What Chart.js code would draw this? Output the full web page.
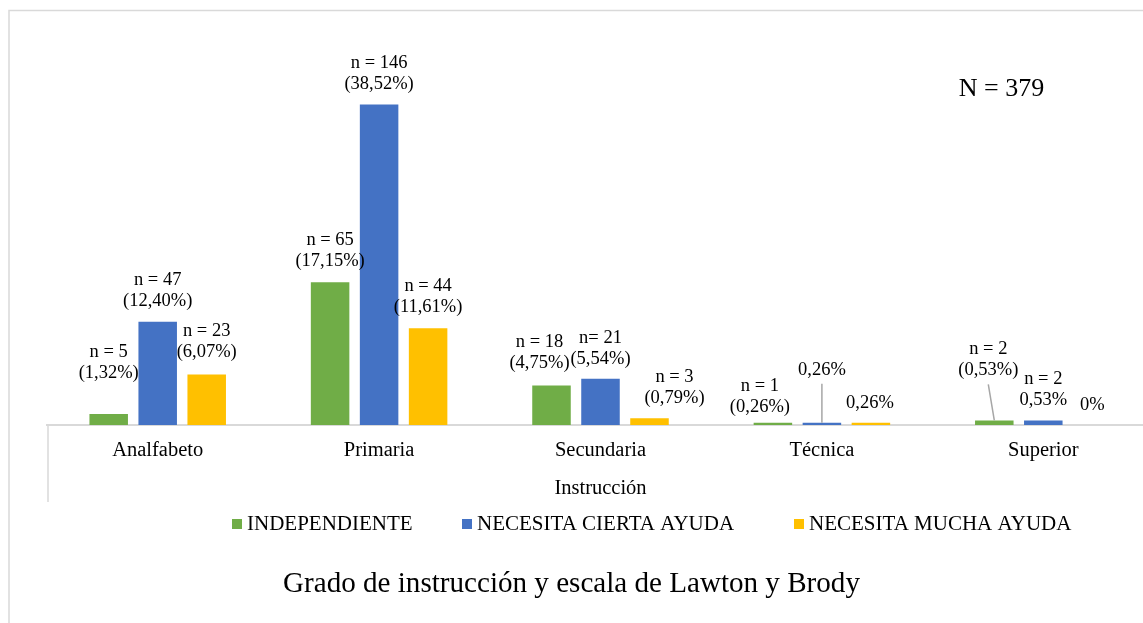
<!DOCTYPE html>
<html>
<head>
<meta charset="utf-8">
<script src="https://cdn.jsdelivr.net/npm/chart.js@4/dist/chart.umd.min.js"></script>
<style>
  html, body { margin: 0; padding: 0; background: #fff; overflow: hidden; }
  #wrap { position: relative; width: 1143px; height: 623px; overflow: hidden; background: #fff; }
  #c { position: absolute; left: -11px; top: 0; }
</style>
</head>
<body>
<div id="wrap"><canvas id="c" width="1165" height="623"></canvas></div>
<script>
// ---- Data ----
const categories = ['Analfabeto', 'Primaria', 'Secundaria', 'Técnica', 'Superior'];
const seriesNames = ['INDEPENDIENTE', 'NECESITA CIERTA AYUDA', 'NECESITA MUCHA AYUDA'];
const independiente = [5, 65, 18, 1, 2];
const ciertaAyuda = [47, 146, 21, 1, 2];
const muchaAyuda = [23, 44, 3, 1, 0];
const labelsIndependiente = [['n = 5', '(1,32%)'], ['n = 65', '(17,15%)'], ['n = 18', '(4,75%)'], ['n = 1', '(0,26%)'], ['n = 2', '(0,53%)']];
const labelsCierta = [['n = 47', '(12,40%)'], ['n = 146', '(38,52%)'], ['n= 21', '(5,54%)'], ['0,26%'], ['n = 2', '0,53%']];
const labelsMucha = [['n = 23', '(6,07%)'], ['n = 44', '(11,61%)'], ['n = 3', '(0,79%)'], ['0,26%'], ['0%']];
const totalText = 'N = 379';
const chartTitle = 'Grado de instrucción y escala de Lawton y Brody';
const axisTitle = 'Instrucción';

// ---- Styles ----
const FAMILY = "'Liberation Serif', 'Times New Roman', serif";
const colors = ['#70AD47', '#4472C4', '#FFC000'];
const OX = 11; // canvas is shifted 11px to the left of the window
// label offsets [dx, dy of first line middle relative to bar top]
const labelOffsets = [
  [[0, -62], [0, -42], [-12, -43], [-13, -37], [-6, -71]],
  [[0, -42], [0, -41], [0, -41], [0, -53], [0, -41]],
  [[0, -43], [0, -42], [25, -41], [-1, -20], [0, -20]]
];
// leader lines: [dataset, index, fromDx, fromDy]
const leaders = [[1, 3, 0, -39], [0, 4, -6, -36]];
// legend item left positions (window px)
const legendX = [232, 462, 794];

Chart.defaults.font.family = FAMILY;
Chart.defaults.color = '#000';

const decor = {
  id: 'decor',
  beforeDraw(chart) {
    const ctx = chart.ctx;
    ctx.save();
    ctx.translate(OX, 0);
    ctx.strokeStyle = '#d9d9d9';
    ctx.lineWidth = 1.5;
    ctx.strokeRect(9, 10.5, 1400, 900);
    ctx.restore();
  },
  afterDatasetsDraw(chart) {
    const ctx = chart.ctx;
    const allLabels = [labelsIndependiente, labelsCierta, labelsMucha];
    const ca = chart.chartArea;
    ctx.save();
    // category axis left box line
    ctx.strokeStyle = '#d9d9d9';
    ctx.lineWidth = 1.5;
    ctx.beginPath();
    ctx.moveTo(ca.left + 1, ca.bottom);
    ctx.lineTo(ca.left + 1, ca.bottom + 77);
    ctx.stroke();
    // leader lines
    ctx.strokeStyle = '#a6a6a6';
    ctx.lineWidth = 1.5;
    leaders.forEach(([d, i, fx, fy]) => {
      const el = chart.getDatasetMeta(d).data[i];
      ctx.beginPath();
      ctx.moveTo(el.x + fx, el.y + fy);
      ctx.lineTo(el.x, el.y);
      ctx.stroke();
    });
    // data labels
    ctx.fillStyle = '#000';
    ctx.font = '18.5px ' + FAMILY;
    ctx.textAlign = 'center';
    ctx.textBaseline = 'middle';
    allLabels.forEach((labs, d) => {
      const meta = chart.getDatasetMeta(d);
      labs.forEach((lines, i) => {
        const el = meta.data[i];
        const [dx, dy] = labelOffsets[d][i];
        lines.forEach((t, k) => ctx.fillText(t, el.x + dx, el.y + dy + k * 21));
      });
    });
    ctx.restore();
  },
  afterDraw(chart) {
    const ctx = chart.ctx;
    ctx.save();
    ctx.translate(OX, 0);
    // N = 379
    ctx.fillStyle = '#000';
    ctx.font = '26px ' + FAMILY;
    ctx.textAlign = 'center';
    ctx.textBaseline = 'middle';
    ctx.fillText(totalText, 1001.5, 89);
    // legend
    ctx.font = '21px ' + FAMILY;
    ctx.textAlign = 'left';
    chart.data.datasets.forEach((ds, i) => {
      const x = legendX[i];
      ctx.fillStyle = ds.backgroundColor;
      ctx.fillRect(x, 519, 10, 10);
      ctx.fillStyle = '#000';
      ctx.fillText(ds.label, x + 15, 524.5);
    });
    ctx.restore();
  }
};

new Chart(document.getElementById('c'), {
  type: 'bar',
  data: {
    labels: categories,
    datasets: [
      { label: seriesNames[0], data: independiente, backgroundColor: colors[0] },
      { label: seriesNames[1], data: ciertaAyuda, backgroundColor: colors[1] },
      { label: seriesNames[2], data: muchaAyuda, backgroundColor: colors[2] }
    ]
  },
  options: {
    responsive: false,
    animation: false,
    devicePixelRatio: 1,
    categoryPercentage: 0.664,
    barPercentage: 0.786,
    layout: { padding: { top: 30, bottom: 21, left: 0, right: 0 } },
    plugins: {
      legend: { display: false },
      tooltip: { enabled: false },
      title: {
        display: true,
        text: chartTitle,
        position: 'bottom',
        color: '#000',
        font: { size: 29.1, weight: 'normal', family: FAMILY },
        padding: { top: 66, bottom: 0 }
      }
    },
    scales: {
      x: {
        grid: { display: false, drawTicks: false },
        border: { display: true, color: '#d9d9d9', width: 2 },
        ticks: { padding: 13.5, color: '#000', font: { size: 20.5 }, maxRotation: 0, autoSkip: false },
        title: { display: true, text: axisTitle, color: '#000', font: { size: 20.5 }, padding: { top: 0, bottom: 0 } }
      },
      y: {
        min: 0,
        max: 180,
        grid: { display: false, drawTicks: false },
        border: { display: false },
        ticks: { display: false },
        afterFit(s) { s.width = 58; }
      }
    }
  },
  plugins: [decor]
});
</script>
</body>
</html>
